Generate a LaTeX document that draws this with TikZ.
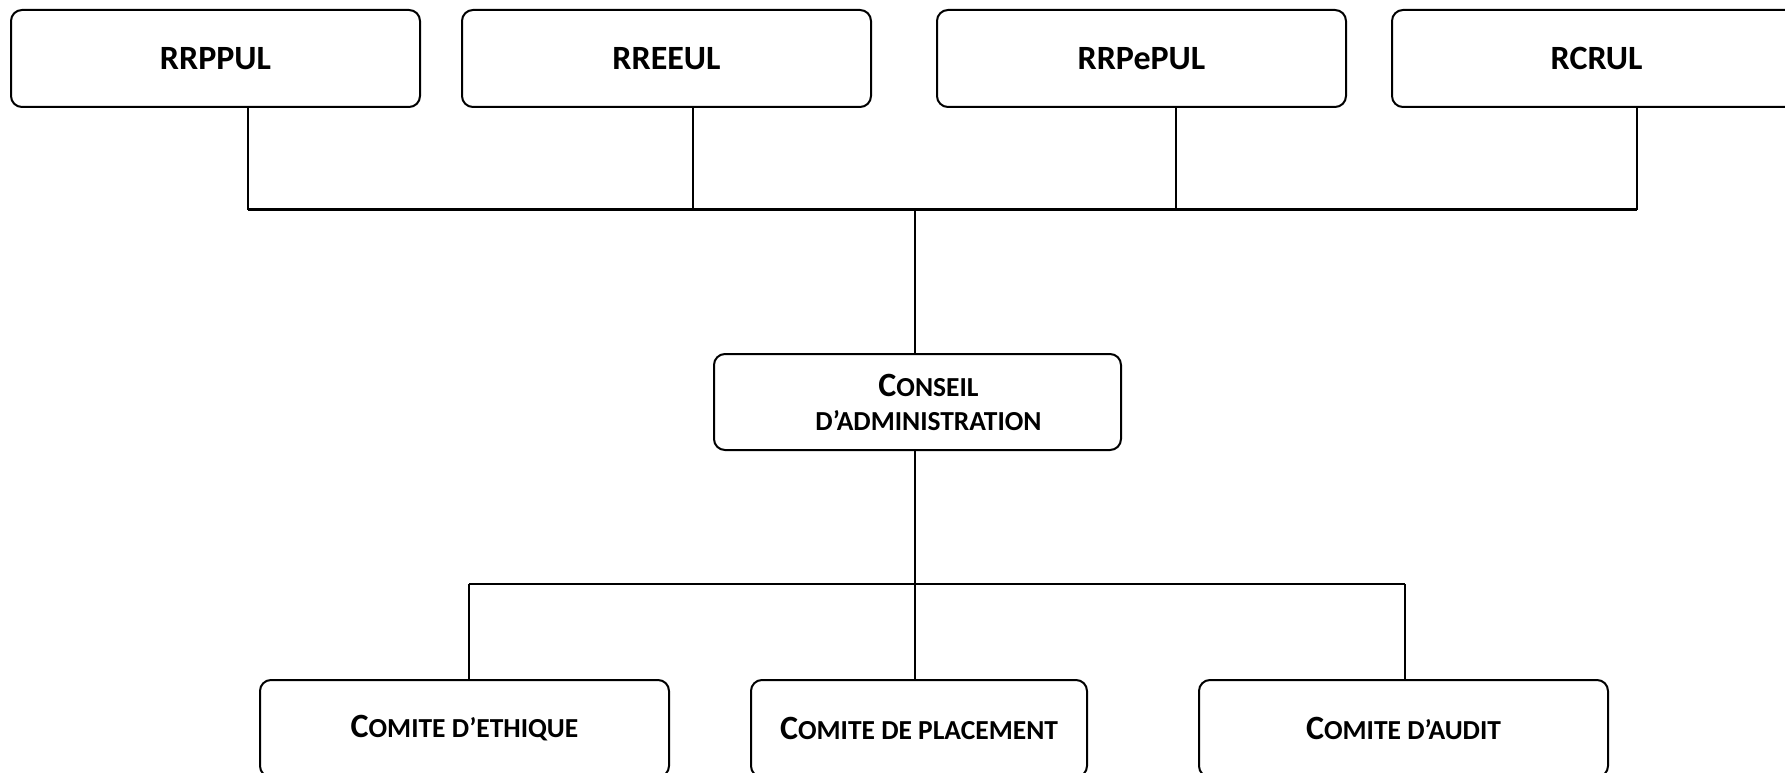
\documentclass[tikz,border=0pt]{standalone}
\usepackage{fontspec}
\setmainfont{Carlito}
\usetikzlibrary{positioning}
\newcommand{\smc}[1]{{\fontsize{27.5}{30}\selectfont #1}}

\begin{document}
\begin{tikzpicture}[x=1pt,y=-1pt,
  box/.style={draw,rounded corners=11pt,line width=2pt,minimum width=409pt,
    minimum height=97pt,inner sep=0pt,align=center,
    font=\fontsize{34}{34}\selectfont\bfseries},
  link/.style={line width=1.6pt},
  bus/.style={line width=2.4pt}]
  \useasboundingbox (0,0) rectangle (1785,773);
  % regimes
  \node[box] (rrppul)  at (215.5,58.5)  {RRPPUL};
  \node[box] (rreeul)  at (666.5,58.5)  {RREEUL};
  \node[box] (rrpepul) at (1141.5,58.5) {RRPePUL};
  \node[box] (rcrul)   at (1596.5,58.5) {RCRUL};
  % conseil
  \node[box,minimum width=407pt,minimum height=96pt] (conseil) at (917.5,402)
       {\hspace*{22pt}C\smc{ONSEIL}\\\hspace*{22pt}\smc{D’ADMINISTRATION}};
  % comites
  \node[box] (ethique) at (464.5,728.5) {C\smc{OMITE D’ETHIQUE}};
  \node[box,minimum width=336pt] (placement) at (919,728.5) {C\smc{OMITE DE PLACEMENT}};
  \node[box] (audit) at (1403.5,728.5) {C\smc{OMITE D’AUDIT}};
  % liens du haut
  \coordinate (topbus) at (915,209.5);
  \draw[link] ([xshift=32.5pt]rrppul.south) coordinate (d1) -- (d1 |- topbus);
  \draw[link] ([xshift=26.5pt]rreeul.south) coordinate (d2) -- (d2 |- topbus);
  \draw[link] ([xshift=34.5pt]rrpepul.south) coordinate (d3) -- (d3 |- topbus);
  \draw[link] ([xshift=40.5pt]rcrul.south) coordinate (d4) -- (d4 |- topbus);
  \draw[bus] (d1 |- topbus) -- (d4 |- topbus);
  \draw[link] (topbus) -- (topbus |- conseil.north);
  % liens du bas
  \coordinate (lowbus) at (915,584);
  \draw[link] (lowbus |- conseil.south) -- (lowbus);
  \draw[link] ([xshift=4.5pt]ethique.north) coordinate (c1) -- (c1 |- lowbus);
  \draw[link] ([xshift=-4pt]placement.north) coordinate (c2) -- (c2 |- lowbus);
  \draw[link] ([xshift=1.5pt]audit.north) coordinate (c3) -- (c3 |- lowbus);
  \draw[bus] (c1 |- lowbus) -- (c3 |- lowbus);
\end{tikzpicture}
\end{document}
